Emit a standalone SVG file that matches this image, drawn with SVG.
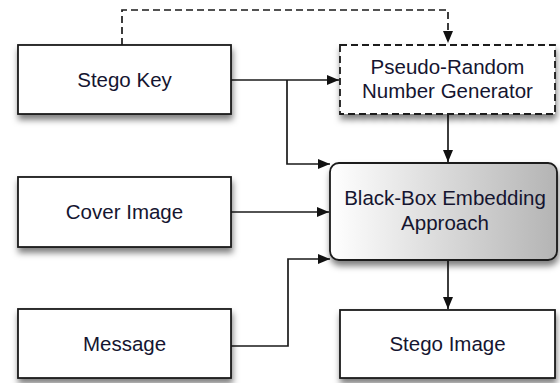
<svg xmlns="http://www.w3.org/2000/svg" width="560" height="383" viewBox="0 0 560 383">
<defs>
<style>
.box{fill:#fff;stroke:#1a1a1a;stroke-width:1.8}
.dash{stroke-dasharray:7,4}
.t{font-family:"Liberation Sans",Arial,sans-serif;font-size:20.5px;fill:#151530;text-anchor:middle}
.c{fill:none;stroke:#1a1a1a;stroke-width:1.7}
</style>
<filter id="sh" x="-10%" y="-10%" width="125%" height="135%">
<feDropShadow dx="1" dy="5" stdDeviation="3" flood-color="#000" flood-opacity="0.5"/>
</filter>
<linearGradient id="g" x1="0" y1="0" x2="1" y2="0">
<stop offset="0" stop-color="#ffffff"/>
<stop offset="1" stop-color="#b4b4b4"/>
</linearGradient>
<marker id="a" viewBox="0 0 12 10" refX="12" refY="5" markerWidth="12" markerHeight="10" markerUnits="userSpaceOnUse" orient="auto">
<path d="M0,0 L12,5 L0,10 z" fill="#111"/>
</marker>
</defs>
<g id="connectors">
<path class="c dash" d="M122,45 V10 H448 V43" marker-end="url(#a)"/>
<path class="c" d="M231,80 H339" marker-end="url(#a)"/>
<path class="c" d="M287,80 V164 H330" marker-end="url(#a)"/>
<path class="c" d="M231,212 H329" marker-end="url(#a)"/>
<path class="c" d="M231,346 H288 V259 H330" marker-end="url(#a)"/>
<path class="c" d="M448,115 V162" marker-end="url(#a)"/>
<path class="c" d="M448,260 V309" marker-end="url(#a)"/>
</g>
<g id="stego-key">
<rect class="box" x="18" y="45" width="213" height="69" filter="url(#sh)"/>
<text class="t" x="124.5" y="87">Stego Key</text>
</g>
<g id="prng">
<rect class="box dash" x="340" y="45" width="215" height="69" filter="url(#sh)"/>
<text class="t" x="447.5" y="74">Pseudo-Random</text>
<text class="t" x="447.5" y="98">Number Generator</text>
</g>
<g id="cover-image">
<rect class="box" x="18" y="177" width="213" height="70" filter="url(#sh)"/>
<text class="t" x="124.5" y="219">Cover Image</text>
</g>
<g id="black-box">
<rect x="330" y="163" width="227" height="97" rx="9" ry="9" fill="url(#g)" stroke="#1a1a1a" stroke-width="1.8" filter="url(#sh)"/>
<text class="t" x="445" y="205">Black-Box Embedding</text>
<text class="t" x="445" y="230">Approach</text>
</g>
<g id="message">
<rect class="box" x="18" y="309" width="213" height="69" filter="url(#sh)"/>
<text class="t" x="124.5" y="351">Message</text>
</g>
<g id="stego-image">
<rect class="box" x="340" y="310" width="215" height="68" filter="url(#sh)"/>
<text class="t" x="447.5" y="351">Stego Image</text>
</g>
</svg>
